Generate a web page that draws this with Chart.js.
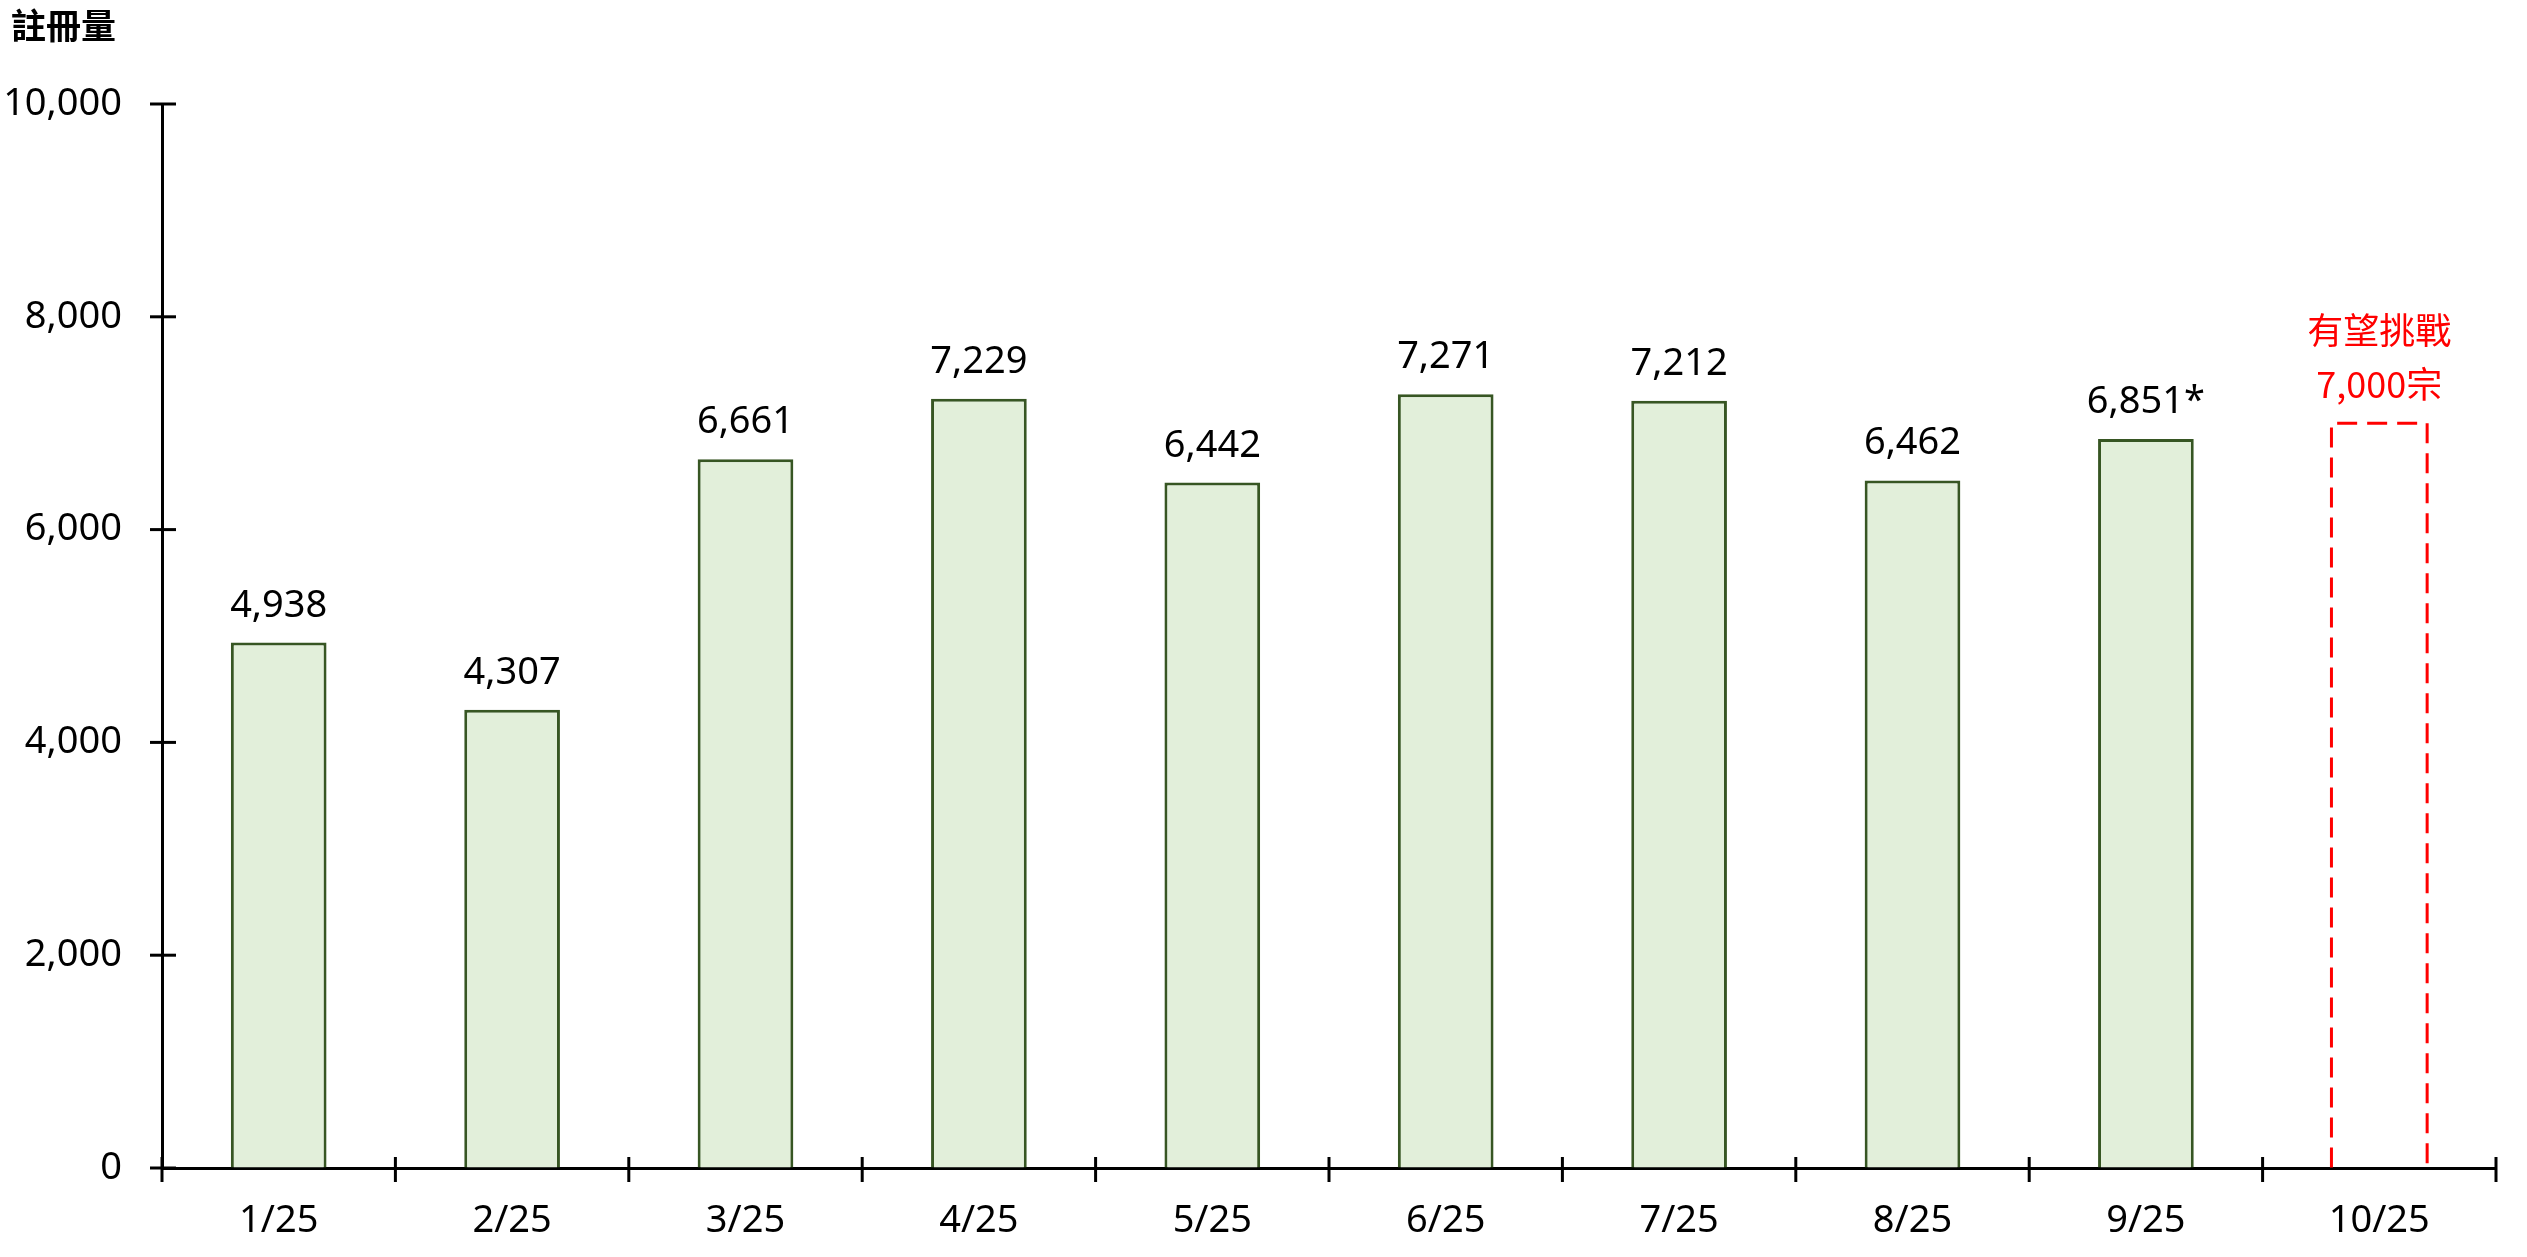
<!DOCTYPE html>
<html>
<head>
<meta charset="utf-8">
<script src="https://cdn.jsdelivr.net/npm/chart.js@4.4.0/dist/chart.umd.min.js"></script>
<style>
  html, body { margin: 0; padding: 0; background: #fff; }
  #wrap { width: 2527px; height: 1257px; }
</style>
</head>
<body>
<div id="wrap"><canvas id="regChart" width="2527" height="1257"></canvas></div>
<script>
// data
const months = ['1/25', '2/25', '3/25', '4/25', '5/25', '6/25', '7/25', '8/25', '9/25', '10/25']
const registrations = [4938, 4307, 6661, 7229, 6442, 7271, 7212, 6462, 6851, null]
const valueNotes = ['', '', '', '', '', '', '', '', '*', '']
const targetValues = [null, null, null, null, null, null, null, null, null, 7000]
const targetLabel = ['有望挑戰', '7,000宗']
const yTicks = [0, 2000, 4000, 6000, 8000, 10000]
const yTitle = '註冊量'

const FONT = '"Noto Sans", "Noto Sans CJK TC", sans-serif'
const CJK = '"Noto Sans CJK TC", "Noto Sans", sans-serif'

const fmt = v => v.toLocaleString('en-US')

// crossing tick marks, value labels, dashed target bar, axis title
const decorations = {
  id: 'decorations',
  afterDatasetsDraw(chart) {
    const ctx = chart.ctx
    const target = chart.getDatasetMeta(1)
    ctx.save()
    ctx.strokeStyle = '#FF0000'
    ctx.lineWidth = 3
    ctx.setLineDash([20, 10])
    target.data.forEach((el, i) => {
      if (targetValues[i] == null) return
      const half = el.width / 2
      ctx.beginPath()
      ctx.moveTo(el.x - half, el.base)
      ctx.lineTo(el.x - half, el.y)
      ctx.lineTo(el.x + half, el.y)
      ctx.lineTo(el.x + half, el.base)
      ctx.stroke()
    })
    ctx.restore()
  },
  afterDraw(chart) {
    const ctx = chart.ctx
    const area = chart.chartArea
    const xs = chart.scales.x
    const ys = chart.scales.y
    ctx.save()

    // ticks crossing the axes
    ctx.strokeStyle = '#000'
    ctx.lineWidth = 3
    ys.ticks.forEach((t, i) => {
      const y = ys.getPixelForTick(i)
      ctx.beginPath()
      ctx.moveTo(area.left - 12, y)
      ctx.lineTo(area.left + 14, y)
      ctx.stroke()
    })
    for (let i = 0; i <= months.length; i++) {
      const x = xs.getPixelForValue(i - 0.5)
      ctx.beginPath()
      ctx.moveTo(x, area.bottom - 11)
      ctx.lineTo(x, area.bottom + 14)
      ctx.stroke()
    }

    // value labels
    ctx.fillStyle = '#000'
    ctx.font = '38px ' + FONT
    ctx.textAlign = 'center'
    ctx.textBaseline = 'alphabetic'
    chart.getDatasetMeta(0).data.forEach((el, i) => {
      if (registrations[i] == null) return
      ctx.fillText(fmt(registrations[i]) + valueNotes[i], el.x, el.y - 26)
    })

    // target label
    ctx.fillStyle = '#FF0000'
    ctx.font = '36px ' + CJK
    chart.getDatasetMeta(1).data.forEach((el, i) => {
      if (targetValues[i] == null) return
      ctx.fillText(targetLabel[1], el.x, el.y - 25)
      ctx.fillText(targetLabel[0], el.x, el.y - 79)
    })

    // axis title
    ctx.fillStyle = '#000'
    ctx.font = 'bold 35px ' + CJK
    ctx.textAlign = 'left'
    ctx.fillText(yTitle, 11, 39)
    ctx.restore()
  }
}

new Chart(document.getElementById('regChart'), {
  type: 'bar',
  data: {
    labels: months,
    datasets: [{
      label: yTitle,
      data: registrations,
      backgroundColor: '#E2EFDA',
      borderColor: '#375623',
      borderWidth: 3,
      grouped: false,
      categoryPercentage: 1,
      barPercentage: 0.41
    }, {
      label: 'target',
      data: targetValues,
      backgroundColor: 'rgba(0,0,0,0)',
      borderWidth: 0,
      grouped: false,
      categoryPercentage: 1,
      barPercentage: 0.41
    }]
  },
  options: {
    responsive: false,
    devicePixelRatio: 1,
    animation: false,
    layout: {
      padding: { top: 104, right: 31, left: 0, bottom: 0 }
    },
    plugins: {
      legend: { display: false },
      tooltip: { enabled: false }
    },
    scales: {
      x: {
        offset: true,
        grid: { display: true, drawOnChartArea: false, drawTicks: false, color: 'rgba(0,0,0,0)' },
        border: { display: true, color: '#000', width: 3 },
        ticks: {
          color: '#000',
          padding: 30,
          font: { family: FONT, size: 38 }
        },
        afterFit(scale) { scale.height = 89 }
      },
      y: {
        min: yTicks[0],
        max: yTicks[yTicks.length - 1],
        grid: { display: true, drawOnChartArea: false, drawTicks: false, color: 'rgba(0,0,0,0)' },
        border: { display: true, color: '#000', width: 3 },
        ticks: {
          stepSize: yTicks[1] - yTicks[0],
          color: '#000',
          padding: 40,
          font: { family: FONT, size: 38 },
          callback: v => fmt(v)
        },
        afterFit(scale) { scale.width = 162 }
      }
    }
  },
  plugins: [decorations]
})
</script>
</body>
</html>
